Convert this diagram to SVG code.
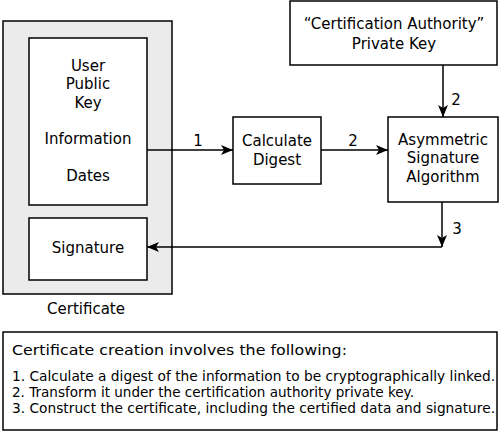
<svg xmlns="http://www.w3.org/2000/svg" width="500" height="434" viewBox="0 0 500 434">
<style>
.box{fill:#fff;stroke:#000;stroke-width:1.5}
.t{font-family:"DejaVu Sans","Liberation Sans",Arial,sans-serif;font-size:15px;fill:#000;text-anchor:middle}
.s{font-family:"DejaVu Sans","Liberation Sans",Arial,sans-serif;font-size:13.5px;fill:#000}
.ln{fill:none;stroke:#000;stroke-width:1.5}
</style>
<defs>
<marker id="ah" viewBox="0 0 12 10" refX="12" refY="5" markerWidth="12" markerHeight="10" markerUnits="userSpaceOnUse" orient="auto">
<path d="M0,0 L12,5 L0,10 L3,5 Z" fill="#000"/>
</marker>
</defs>
<rect width="500" height="434" fill="#fff"/>
<g id="certificate">
<rect x="3" y="21" width="169" height="273" fill="#ebebeb" stroke="#000" stroke-width="1.5"/>
<text class="t" x="86" y="314">Certificate</text>
</g>
<g id="info">
<rect class="box" x="29" y="38" width="118" height="167"/>
<text class="t" x="88" y="71">User</text>
<text class="t" x="88" y="89">Public</text>
<text class="t" x="88" y="108">Key</text>
<text class="t" x="88" y="144">Information</text>
<text class="t" x="88" y="181">Dates</text>
</g>
<g id="signature">
<rect class="box" x="29" y="218" width="118" height="62"/>
<text class="t" x="88" y="253">Signature</text>
</g>
<g id="digest">
<rect class="box" x="233" y="117" width="88" height="67"/>
<text class="t" x="277" y="146">Calculate</text>
<text class="t" x="277" y="165">Digest</text>
</g>
<g id="algorithm">
<rect class="box" x="388" y="117" width="110" height="85"/>
<text class="t" x="443" y="145">Asymmetric</text>
<text class="t" x="443" y="163">Signature</text>
<text class="t" x="443" y="182">Algorithm</text>
</g>
<g id="cakey">
<rect class="box" x="290" y="1" width="207" height="64"/>
<text class="t" x="394" y="29">“Certification Authority”</text>
<text class="t" x="394" y="49">Private Key</text>
</g>
<g id="connectors">
<line class="ln" x1="147" y1="150" x2="233" y2="150" marker-end="url(#ah)"/>
<text class="t" x="198" y="146">1</text>
<line class="ln" x1="321" y1="150" x2="388" y2="150" marker-end="url(#ah)"/>
<text class="t" x="353" y="146">2</text>
<line class="ln" x1="443" y1="65" x2="443" y2="117" marker-end="url(#ah)"/>
<text class="t" x="456" y="105">2</text>
<line class="ln" x1="442" y1="202" x2="442" y2="247" marker-end="url(#ah)"/>
<text class="t" x="457" y="234">3</text>
<line class="ln" x1="442" y1="247" x2="147" y2="247" marker-end="url(#ah)"/>
</g>
<g id="notes">
<rect class="box" x="3" y="332" width="494" height="98"/>
<text class="s" x="12" y="355" textLength="335" lengthAdjust="spacingAndGlyphs">Certificate creation involves the following:</text>
<text class="s" x="12" y="381" textLength="483" lengthAdjust="spacingAndGlyphs">1. Calculate a digest of the information to be cryptographically linked.</text>
<text class="s" x="12" y="397" textLength="402" lengthAdjust="spacingAndGlyphs">2. Transform it under the certification authority private key.</text>
<text class="s" x="12" y="413" textLength="483" lengthAdjust="spacingAndGlyphs">3. Construct the certificate, including the certified data and signature.</text>
</g>
</svg>
